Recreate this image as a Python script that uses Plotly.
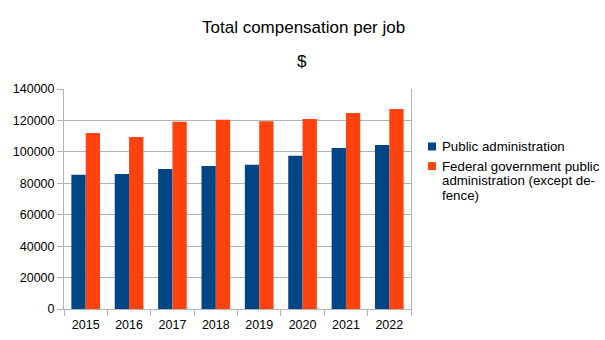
import plotly.graph_objects as go

years = ["2015", "2016", "2017", "2018", "2019", "2020", "2021", "2022"]
public_admin = [85500, 85900, 89100, 91000, 91800, 97600, 102500, 104400]
federal_admin = [112000, 109500, 119200, 120500, 119400, 120900, 124700, 127300]
y_ticks = [0, 20000, 40000, 60000, 80000, 100000, 120000, 140000]
series_names = ["Public administration",
                "Federal government public<br>administration (except de-<br>fence)"]
series_colors = ["#004586", "#ff420e"]

fig = go.Figure()
for vals, name, col in zip([public_admin, federal_admin], series_names, series_colors):
    fig.add_trace(go.Bar(x=years, y=vals, name=name, showlegend=False,
                         marker=dict(color=col, line=dict(width=0))))

L, R, T, B = 64, 194, 89, 31
W, H = 605, 340
pw = W - L - R
ph = H - T - B

def px_x(x):
    return (x - L) / pw

def px_y(y):
    return (H - B - y) / ph

annotations = [
    dict(text="Total compensation per job", x=px_x(303), y=px_y(27), xref="paper",
         yref="paper", showarrow=False, font=dict(size=17), xanchor="center",
         yanchor="middle"),
    dict(text="$", x=px_x(302), y=px_y(61), xref="paper", yref="paper",
         showarrow=False, font=dict(size=17), xanchor="center", yanchor="middle"),
]
shapes = []

# manual legend
row_y = 146.5
line_h = 14.6
for name, col in zip(series_names, series_colors):
    shapes.append(dict(type="rect", xref="paper", yref="paper",
                       x0=px_x(428), x1=px_x(436), y0=px_y(row_y - 4), y1=px_y(row_y + 4),
                       fillcolor=col, line=dict(width=0)))
    for i, line in enumerate(name.split("<br>")):
        annotations.append(dict(text=line, x=px_x(440), y=px_y(row_y + i * line_h),
                                xref="paper", yref="paper", showarrow=False,
                                xanchor="left", yanchor="middle", font=dict(size=13.3)))
    row_y += len(name.split("<br>")) * line_h + 5

fig.update_layout(
    width=W, height=H,
    margin=dict(l=L, r=R, t=T, b=B, autoexpand=False),
    paper_bgcolor="white", plot_bgcolor="white",
    font=dict(family="Liberation Sans, Arial, sans-serif", size=12, color="black"),
    barmode="group", bargap=0.34, bargroupgap=0,
    showlegend=False,
    xaxis=dict(type="category", showgrid=False, showline=True, linecolor="#b3b3b3",
               linewidth=1, ticks="outside", tickson="boundaries", ticklen=6,
               tickcolor="#b3b3b3", tickfont=dict(size=12.5), ticklabelstandoff=4),
    yaxis=dict(range=[0, 140000], tickvals=y_ticks, showgrid=True, gridcolor="#b3b3b3",
               gridwidth=1, showline=True, mirror=True, linecolor="#b3b3b3", linewidth=1,
               ticks="outside", ticklen=6, tickcolor="#b3b3b3", zeroline=False,
               tickformat="d", tickfont=dict(size=12.5)),
    annotations=annotations,
    shapes=shapes,
)

fig.write_html("out.html")
